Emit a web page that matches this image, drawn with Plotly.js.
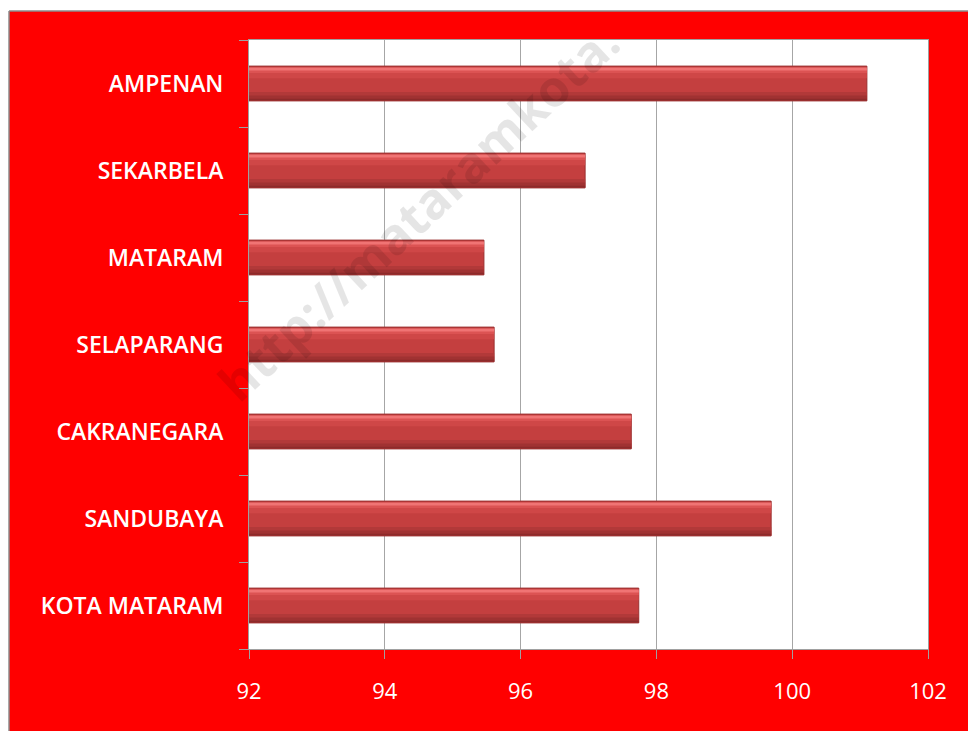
<!DOCTYPE html>
<html>
<head>
<meta charset="utf-8">
<script src="https://cdn.plot.ly/plotly-3.0.1.min.js"></script>
<style>html,body{margin:0;padding:0;background:#fff;}#chart{width:968px;height:731px;}</style>
</head>
<body>
<div id="chart"></div>
<script>
// Data (bottom-to-top order as drawn on the category axis)
const categories = ["KOTA MATARAM", "SANDUBAYA", "CAKRANEGARA", "SELAPARANG", "MATARAM", "SEKARBELA", "AMPENAN"];
const values = [97.74, 99.69, 97.63, 95.61, 95.46, 96.95, 101.1];
const xTicks = [92, 94, 96, 98, 100, 102];

const W = 968, H = 731;
const M = {l: 249, r: 40, t: 40, b: 82};
const pw = W - M.l - M.r, ph = H - M.t - M.b;
const px = v => (v - M.l) / pw;          // page x -> paper x
const py = v => 1 - (v - M.t) / ph;      // page y -> paper y

const barW = 0.40;
function barTrace(color, width, offset, line) {
  return {
    type: 'bar', orientation: 'h', y: categories, x: values,
    width: categories.map(() => width),
    offset: categories.map(() => offset),
    marker: {color: color, line: line || {width: 0}},
    hoverinfo: 'skip', showlegend: false
  };
}

const lo = -barW / 2, hi = barW / 2;
const traces = [
  barTrace('#c43f3f', barW, lo, {color: '#9a3030', width: 1}),
  barTrace('#b23939', 0.09, lo + 0.012, null),
  barTrace('#a03232', 0.05, lo + 0.012, null),
  barTrace('#8c2b2b', 0.02, lo + 0.006, null),
  barTrace('#cf4747', 0.10, hi - 0.14, null),
  barTrace('#dc5353', 0.05, hi - 0.08, null),
  barTrace('#f07474', 0.035, hi - 0.05, null)
];

const tickFont = {family: 'Open Sans, sans-serif', size: 23, color: '#ffffff', weight: 600};

const layout = {
  width: W, height: H,
  margin: M,
  paper_bgcolor: '#ff0000',
  plot_bgcolor: '#ffffff',
  barmode: 'overlay',
  showlegend: false,
  font: {family: 'Open Sans, sans-serif', color: '#ffffff'},
  xaxis: {
    range: [92, 102], tickvals: xTicks, ticktext: xTicks.map(String),
    showgrid: true, gridcolor: '#a6a6a6', gridwidth: 1,
    zeroline: false, showline: true, linecolor: '#a0a0a0', linewidth: 1, mirror: true,
    ticks: 'outside', ticklen: 9, tickcolor: '#a0a0a0', tickwidth: 1,
    tickfont: {family: 'Open Sans, sans-serif', size: 22, color: '#ffffff'},
    ticklabelstandoff: 14, fixedrange: true
  },
  yaxis: {
    type: 'category', categoryorder: 'array', categoryarray: categories,
    range: [-0.5, categories.length - 0.5],
    showgrid: false, zeroline: false, showline: true, linecolor: '#a0a0a0', linewidth: 1, mirror: true,
    ticks: 'outside', tickson: 'boundaries', ticklen: 9, tickcolor: '#a0a0a0', tickwidth: 1,
    tickfont: tickFont,
    ticklabelstandoff: 20, fixedrange: true
  },
  shapes: [
    {type: 'rect', xref: 'paper', yref: 'paper', x0: -1, x1: 2, y0: py(11), y1: 1.3, fillcolor: '#ffffff', line: {width: 0}, layer: 'below'},
    {type: 'rect', xref: 'paper', yref: 'paper', x0: -1, x1: px(9), y0: -1, y1: 1.3, fillcolor: '#ffffff', line: {width: 0}, layer: 'below'},
    {type: 'line', xref: 'paper', yref: 'paper', x0: px(9), x1: 2, y0: py(11), y1: py(11), line: {color: '#8c8c8c', width: 1.5}},
    {type: 'line', xref: 'paper', yref: 'paper', x0: px(9), x1: px(9), y0: py(11), y1: -1, line: {color: '#8c8c8c', width: 1.5}}
  ],
  annotations: [
    {xref: 'paper', yref: 'paper', x: px(418), y: py(212), xanchor: 'center', yanchor: 'middle',
     text: 'http://mataramkota.', showarrow: false,
     textangle: -43, font: {family: 'Open Sans, sans-serif', size: 50, color: 'rgba(0,0,0,0.1)', weight: 'bold'}}
  ]
};

Plotly.newPlot('chart', traces, layout, {displayModeBar: false, staticPlot: true});
</script>
</body>
</html>
